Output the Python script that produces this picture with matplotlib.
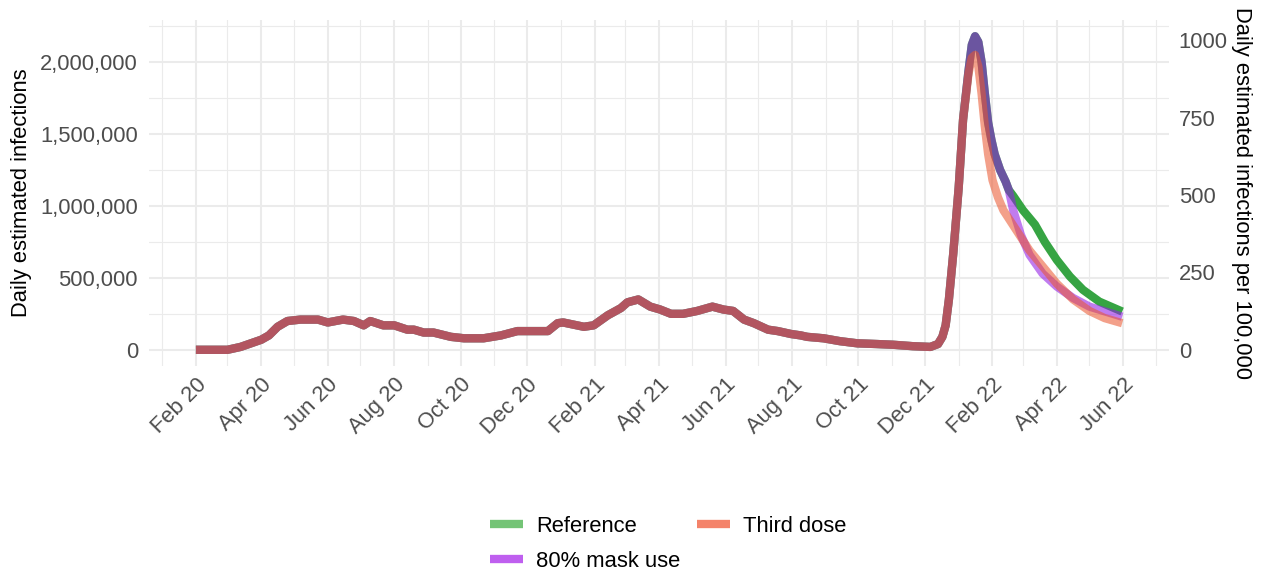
import matplotlib
matplotlib.use("Agg")
import matplotlib.pyplot as plt
import matplotlib.dates as mdates
from matplotlib.lines import Line2D
from matplotlib.ticker import FuncFormatter, MultipleLocator
import pandas as pd

plt.rcParams["font.family"] = ["Liberation Sans", "DejaVu Sans"]

# population used for the per-100,000 axis
POP = 215.3e6
FS = 15.8

# daily estimated infections, common history (all scenarios)
hist_dates = ["2020-02-01", "2020-03-01", "2020-03-13", "2020-04-01", "2020-04-08",
              "2020-04-16", "2020-04-25", "2020-05-07", "2020-05-23", "2020-06-01",
              "2020-06-15", "2020-06-25", "2020-07-04", "2020-07-10", "2020-07-22",
              "2020-08-01", "2020-08-13", "2020-08-19", "2020-08-28", "2020-09-06",
              "2020-09-22", "2020-10-04", "2020-10-22", "2020-11-07", "2020-11-22",
              "2020-12-04", "2020-12-20", "2020-12-29", "2021-01-03", "2021-01-22",
              "2021-01-31", "2021-02-13", "2021-02-25", "2021-03-03", "2021-03-13",
              "2021-03-24", "2021-04-02", "2021-04-12", "2021-04-23", "2021-05-06",
              "2021-05-20", "2021-05-30", "2021-06-08", "2021-06-18", "2021-06-27",
              "2021-07-10", "2021-07-19", "2021-07-31", "2021-08-09", "2021-08-15",
              "2021-08-30", "2021-09-14", "2021-09-30", "2021-10-18", "2021-11-02",
              "2021-11-20", "2021-12-06", "2021-12-13", "2021-12-17", "2021-12-20",
              "2021-12-23", "2021-12-27", "2022-01-01", "2022-01-05"]
hist_vals = [0, 0, 20000, 70000, 100000,
             160000, 200000, 210000, 210000, 190000,
             210000, 200000, 170000, 200000, 170000,
             170000, 140000, 140000, 120000, 120000,
             90000, 80000, 80000, 100000, 130000,
             130000, 130000, 185000, 190000, 160000,
             170000, 240000, 290000, 330000, 350000,
             300000, 280000, 250000, 250000, 270000,
             300000, 280000, 270000, 210000, 185000,
             140000, 130000, 110000, 100000, 90000,
             80000, 60000, 45000, 40000, 35000,
             25000, 20000, 40000, 90000, 170000,
             350000, 670000, 1130000, 1600000]

# Reference and 80% mask use share the Omicron peak
peak_dates = ["2022-01-10", "2022-01-13", "2022-01-16", "2022-01-19", "2022-01-22",
              "2022-01-25", "2022-01-28", "2022-01-31", "2022-02-03", "2022-02-08",
              "2022-02-13", "2022-02-16"]
peak_vals = [1940000, 2120000, 2180000, 2140000, 2000000,
             1780000, 1580000, 1460000, 1360000, 1250000,
             1170000, 1110000]

ref_dates = ["2022-02-20", "2022-03-01", "2022-03-12", "2022-03-21", "2022-04-01",
             "2022-04-13", "2022-04-25", "2022-05-10", "2022-05-31"]
ref_vals = [1070000, 970000, 870000, 750000, 625000,
            510000, 417000, 335000, 266000]

mask_dates = ["2022-02-20", "2022-02-27", "2022-03-07", "2022-03-19", "2022-04-01",
              "2022-04-16", "2022-05-01", "2022-05-31"]
mask_vals = [970000, 800000, 660000, 530000, 440000,
             360000, 300000, 230000]

dose_dates = ["2022-01-10", "2022-01-13", "2022-01-16", "2022-01-19", "2022-01-22",
              "2022-01-25", "2022-01-28", "2022-02-01", "2022-02-06", "2022-02-11",
              "2022-02-17", "2022-02-23", "2022-03-07", "2022-03-19", "2022-04-01",
              "2022-04-16", "2022-05-01", "2022-05-15", "2022-05-31"]
dose_vals = [1920000, 2030000, 2050000, 1970000, 1780000,
             1550000, 1360000, 1180000, 1060000, 970000,
             900000, 830000, 690000, 580000, 460000,
             350000, 270000, 220000, 185000]

labels = ["Reference", "80% mask use", "Third dose"]
line_colors = ["#36A443", "#931DE5", "#EA562E"]
line_alpha = [1.0, 0.58, 0.56]
key_colors = ["#74C476", "#BF5FEF", "#F4836A"]

series = [
    (hist_dates + peak_dates + ref_dates, hist_vals + peak_vals + ref_vals),
    (hist_dates + peak_dates + mask_dates, hist_vals + peak_vals + mask_vals),
    (hist_dates + dose_dates, hist_vals + dose_vals),
]

fig = plt.figure(figsize=(12.63, 5.76), dpi=100)
ax = fig.add_axes([0.118, 0.365, 0.8076, 0.6])

for (d, v), c, a in zip(series, line_colors, line_alpha):
    ax.plot(pd.to_datetime(d), v, color=c, alpha=a, lw=6,
            solid_capstyle="butt", solid_joinstyle="round")

ax.set_xlim(pd.Timestamp("2019-12-20"), pd.Timestamp("2022-07-13"))
ax.set_ylim(-111000, 2291700)

ax.xaxis.set_major_locator(mdates.MonthLocator(bymonth=[2, 4, 6, 8, 10, 12]))
ax.xaxis.set_minor_locator(mdates.MonthLocator(bymonth=[1, 3, 5, 7, 9, 11]))
ax.xaxis.set_major_formatter(mdates.DateFormatter("%b %y"))
ax.yaxis.set_major_locator(MultipleLocator(500000))
ax.yaxis.set_minor_locator(MultipleLocator(250000))
ax.yaxis.set_major_formatter(FuncFormatter(lambda v, p: f"{v:,.0f}"))

ax.grid(which="major", color="#EBEBEB", lw=1.5)
ax.grid(which="minor", color="#EBEBEB", lw=0.8)
ax.set_axisbelow(True)
for s in ax.spines.values():
    s.set_visible(False)

ax.tick_params(which="both", length=0)
ax.tick_params(axis="y", pad=8, labelsize=FS, labelcolor="#4D4D4D")
ax.tick_params(axis="x", pad=6, labelsize=FS, labelcolor="#4D4D4D")
for t in ax.get_xticklabels():
    t.set_rotation(45)
    t.set_ha("right")
    t.set_rotation_mode("anchor")

ax.set_ylabel("Daily estimated infections", fontsize=FS, labelpad=6)

ax2 = ax.secondary_yaxis("right", functions=(lambda v: v / POP * 1e5,
                                             lambda r: r * POP / 1e5))
ax2.set_yticks([0, 250, 500, 750, 1000])
ax2.tick_params(length=0, pad=7, labelsize=FS, labelcolor="#4D4D4D")
ax2.spines["right"].set_visible(False)
ax2.set_ylabel("Daily estimated infections per 100,000", fontsize=FS,
               rotation=-90, va="bottom", labelpad=2)

handles = [Line2D([], [], color=c, lw=6, solid_capstyle="butt") for c in key_colors]
fig.legend(handles, labels, ncol=2, loc="center", bbox_to_anchor=(0.529, 0.056),
           frameon=False, fontsize=FS, handlelength=1.5, handletextpad=0.6,
           columnspacing=0.75, labelspacing=0.65)

fig.savefig("out.png", dpi=100)
